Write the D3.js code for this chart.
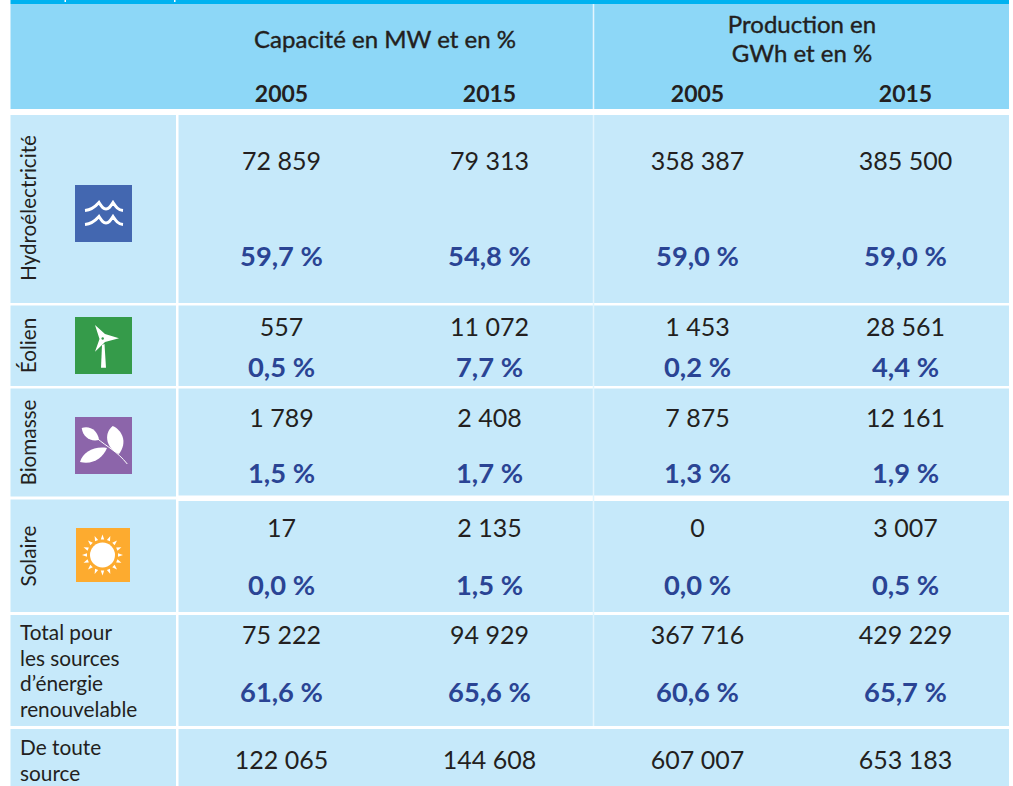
<!DOCTYPE html>
<html>
<head>
<meta charset="utf-8">
<script src="https://cdn.jsdelivr.net/npm/d3@7"></script>
<style>
  html, body { margin: 0; padding: 0; background: #fff; overflow: hidden; }
  text { font-family: Lato, "Open Sans", sans-serif; }
</style>
</head>
<body>
<div id="table"></div>
<script>
var groupTitles = [["Capacité en MW et en %"], ["Production en", "GWh et en %"]];
var columns = ["cap2005", "cap2015", "prod2005", "prod2015"];
var years = ["2005", "2015", "2005", "2015"];
var rowKeys = ["hydro", "eolien", "biomasse", "solaire", "total", "toute"];
var rowNames = ["Hydroélectricité", "Éolien", "Biomasse", "Solaire"];
var totalLabel = ["Total pour", "les sources", "d’énergie", "renouvelable"];
var allLabel = ["De toute", "source"];

var amounts = {
  hydro: ["72 859", "79 313", "358 387", "385 500"],
  eolien: ["557", "11 072", "1 453", "28 561"],
  biomasse: ["1 789", "2 408", "7 875", "12 161"],
  solaire: ["17", "2 135", "0", "3 007"],
  total: ["75 222", "94 929", "367 716", "429 229"],
  toute: ["122 065", "144 608", "607 007", "653 183"]
};
var shares = {
  hydro: ["59,7 %", "54,8 %", "59,0 %", "59,0 %"],
  eolien: ["0,5 %", "7,7 %", "0,2 %", "4,4 %"],
  biomasse: ["1,5 %", "1,7 %", "1,3 %", "1,9 %"],
  solaire: ["0,0 %", "1,5 %", "0,0 %", "0,5 %"],
  total: ["61,6 %", "65,6 %", "60,6 %", "65,7 %"]
};

var svgWidth = 1013;
var svgHeight = 786;
var left = 10.5;
var right = 1009;
var firstColRight = 176;
var black = "#231f20";
var blue = "#2a4494";
var pale = "#c6e9fa";

var svg = d3.select("#table")
  .append("svg")
  .attr("width", svgWidth)
  .attr("height", svgHeight)
  .style("display", "block");

// layout scales
var xCol = d3.scalePoint().domain(columns).range([281.5, 905.5]);
var rowTop = d3.scaleOrdinal().domain(rowKeys).range([115, 305.5, 388.5, 499.5, 615, 729]);
var rowBottom = d3.scaleOrdinal().domain(rowKeys).range([303, 386, 496.5, 612, 726, 786]);
var amountY = d3.scaleOrdinal().domain(rowKeys).range([161, 327, 418, 528, 635, 760]);
var shareY = d3.scaleOrdinal().domain(rowKeys).range([256, 367, 473, 585, 692]);

// header bands
svg.append("rect").attr("x", left).attr("y", 0).attr("width", right - left).attr("height", 4).attr("fill", "#00b2f0");
svg.append("rect").attr("x", left).attr("y", 4).attr("width", right - left).attr("height", 105).attr("fill", "#8dd7f7");
svg.append("line").attr("x1", 593.5).attr("x2", 593.5).attr("y1", 4).attr("y2", 109).attr("stroke", "#e4f5fd").attr("stroke-width", 1.5);

// bits of the cropped title above the table
[64.5, 174].forEach(function(x) {
  svg.append("rect").attr("x", x).attr("y", 0).attr("width", 1.5).attr("height", 2).attr("fill", "#fff");
});

// row backgrounds
svg.selectAll("rect.cell")
  .data(rowKeys)
  .enter()
  .append("rect")
  .attr("class", "cell")
  .attr("x", left)
  .attr("y", d => rowTop(d))
  .attr("width", right - left)
  .attr("height", d => rowBottom(d) - rowTop(d))
  .attr("fill", pale);

// the gap under biomasse is a bit wider right of the first column
svg.append("rect").attr("x", firstColRight).attr("y", 495.5).attr("width", right - firstColRight).attr("height", 5.5).attr("fill", "#fff");

// first column separator, and the thin one between the two groups
svg.append("rect").attr("x", firstColRight).attr("y", 109).attr("width", 2.5).attr("height", svgHeight - 109).attr("fill", "#fff");
svg.append("line").attr("x1", 593.5).attr("x2", 593.5).attr("y1", 115).attr("y2", 726).attr("stroke", "#e4f5fd").attr("stroke-width", 1.5);

// group titles
svg.append("text")
  .attr("x", 385).attr("y", 48)
  .attr("text-anchor", "middle")
  .attr("font-size", 24).attr("fill", black).attr("stroke", black).attr("stroke-width", 0.4)
  .text(groupTitles[0][0]);
svg.selectAll("text.prod")
  .data(groupTitles[1])
  .enter()
  .append("text")
  .attr("class", "prod")
  .attr("x", 802)
  .attr("y", (d, i) => 33 + i * 29)
  .attr("text-anchor", "middle")
  .attr("font-size", 24).attr("fill", black).attr("stroke", black).attr("stroke-width", 0.4)
  .text(d => d);

// years
svg.selectAll("text.year")
  .data(years)
  .enter()
  .append("text")
  .attr("class", "year")
  .attr("x", (d, i) => xCol(columns[i]))
  .attr("y", 102)
  .attr("text-anchor", "middle")
  .attr("font-size", 23).attr("font-weight", 700).attr("fill", black)
  .text(d => d);

// amounts and shares
rowKeys.forEach(function(key) {
  svg.selectAll("text.amount-" + key)
    .data(amounts[key])
    .enter()
    .append("text")
    .attr("class", "amount-" + key)
    .attr("x", (d, i) => xCol(columns[i]))
    .attr("y", amountY(key))
    .attr("dy", "0.36em")
    .attr("text-anchor", "middle")
    .attr("font-size", 25).attr("fill", black)
    .text(d => d);

  svg.selectAll("text.share-" + key)
    .data(shares[key] || [])
    .enter()
    .append("text")
    .attr("class", "share-" + key)
    .attr("x", (d, i) => xCol(columns[i]))
    .attr("y", shareY(key))
    .attr("dy", "0.36em")
    .attr("text-anchor", "middle")
    .attr("font-size", 27.3).attr("font-weight", 700).attr("fill", blue)
    .text(d => d);
});

// rotated labels of the first column
var labelMid = d3.scaleOrdinal().domain(rowNames).range([208, 345.5, 442.5, 556]);
svg.selectAll("text.source")
  .data(rowNames)
  .enter()
  .append("text")
  .attr("class", "source")
  .attr("transform", d => `translate(36, ${labelMid(d)}) rotate(-90)`)
  .attr("text-anchor", "middle")
  .attr("font-size", 20.7).attr("fill", black)
  .text(d => d);

svg.selectAll("text.total")
  .data(totalLabel)
  .enter()
  .append("text")
  .attr("class", "total")
  .attr("x", 20)
  .attr("y", (d, i) => 640 + i * 25.7)
  .attr("font-size", 20.8).attr("fill", black)
  .text(d => d);

svg.selectAll("text.all")
  .data(allLabel)
  .enter()
  .append("text")
  .attr("class", "all")
  .attr("x", 20)
  .attr("y", (d, i) => 755 + i * 25.7)
  .attr("font-size", 20.8).attr("fill", black)
  .text(d => d);

// icons, each drawn in its own 57px box
function iconBox(y, color, size, x) {
  var g = svg.append("g").attr("transform", `translate(${x || 75}, ${y})`);
  g.append("rect").attr("width", size || 57).attr("height", size || 57).attr("fill", color);
  return g;
}

var water = iconBox(185, "#4367b0");
["M10,25.5 C16,25 20,22 24,17.5 C27,22 28,24 31,24 C34,24 35,22 38,17.5 C41,22 43,25 48,25.5",
 "M10,39.5 C16,39 20,36 24,31.5 C27,36 28,38 31,38 C34,38 35,36 38,31.5 C41,36 43,39 48,39.5"].forEach(function(p) {
  water.append("path").attr("d", p).attr("fill", "none").attr("stroke", "#fff").attr("stroke-width", 3);
});

var wind = iconBox(317, "#359b4a");
wind.append("path").attr("d", "M27,28 L29.5,27 L31,50.7 L26,50.7 Z").attr("fill", "#fff");
wind.append("path").attr("d", "M20,8 L30,17 L44,21.3 L30,25 L28,27 L20,34.7 L24.5,22 Z").attr("fill", "#fff");
wind.append("circle").attr("cx", 27.7).attr("cy", 21.5).attr("r", 1.2).attr("fill", "#359b4a");

var leaf = iconBox(417, "#8c65aa");
leaf.append("path").attr("d", "M21.7,21 C32,30 42,34 52.3,47").attr("fill", "none").attr("stroke", "#fff").attr("stroke-width", 1);
leaf.append("path").attr("d", "M6.7,11 C15,8 23,14 24,23 C15,25 8,20 6.7,11 Z").attr("fill", "#fff");
leaf.append("path").attr("d", "M37.7,9 C47,13 53,25 44,37 C33,33 27,18 37.7,9 Z").attr("fill", "#fff");
leaf.append("path").attr("d", "M5,45 C8,35 19,29 32,31 C28,41 18,48 5,45 Z").attr("fill", "#fff");

var sun = iconBox(528, "#fdab2f", 54, 76);
sun.append("circle").attr("cx", 26.5).attr("cy", 27).attr("r", 12.5).attr("fill", "#fff");
d3.range(16).forEach(function(i) {
  sun.append("path")
    .attr("d", "M-1.7,-15.5 L0,-20.5 L1.7,-15.5 Z")
    .attr("transform", `translate(26.5, 27) rotate(${i * 22.5})`)
    .attr("fill", "#fff");
});
</script>
</body>
</html>
